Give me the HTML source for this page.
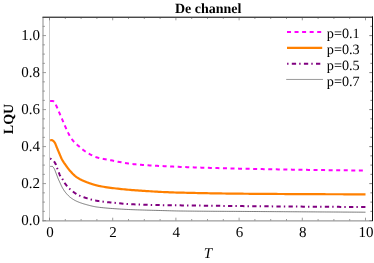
<!DOCTYPE html>
<html><head><meta charset="utf-8"><title>De channel</title>
<style>
html,body{margin:0;padding:0;background:#fff;}
body{width:374px;height:263px;overflow:hidden;}
svg{display:block;}
text{font-family:"Liberation Serif",serif;fill:#000;text-rendering:geometricPrecision;}
</style></head><body>
<svg width="374" height="263" viewBox="0 0 374 263">
<rect width="374" height="263" fill="#fff"/>
<defs><filter id="ga" x="0" y="0" width="374" height="263" filterUnits="userSpaceOnUse" color-interpolation-filters="sRGB"><feOffset dx="0" dy="0"/></filter></defs>
<g>

<line x1="49.5" y1="17.2" x2="49.5" y2="220.5" stroke="#cacaca" stroke-width="1"/>
<path d="M49.50,220.6 v-2.9 M49.50,17.2 v3.1 M65.30,220.6 v-1.6 M65.30,17.2 v1.8 M81.10,220.6 v-1.6 M81.10,17.2 v1.8 M96.90,220.6 v-1.6 M96.90,17.2 v1.8 M112.70,220.6 v-2.9 M112.70,17.2 v3.1 M128.50,220.6 v-1.6 M128.50,17.2 v1.8 M144.30,220.6 v-1.6 M144.30,17.2 v1.8 M160.10,220.6 v-1.6 M160.10,17.2 v1.8 M175.90,220.6 v-2.9 M175.90,17.2 v3.1 M191.70,220.6 v-1.6 M191.70,17.2 v1.8 M207.50,220.6 v-1.6 M207.50,17.2 v1.8 M223.30,220.6 v-1.6 M223.30,17.2 v1.8 M239.10,220.6 v-2.9 M239.10,17.2 v3.1 M254.90,220.6 v-1.6 M254.90,17.2 v1.8 M270.70,220.6 v-1.6 M270.70,17.2 v1.8 M286.50,220.6 v-1.6 M286.50,17.2 v1.8 M302.30,220.6 v-2.9 M302.30,17.2 v3.1 M318.10,220.6 v-1.6 M318.10,17.2 v1.8 M333.90,220.6 v-1.6 M333.90,17.2 v1.8 M349.70,220.6 v-1.6 M349.70,17.2 v1.8 M365.50,220.6 v-2.9 M365.50,17.2 v3.1 M42.7,220.60 h3.3 M42.7,211.35 h2.2 M42.7,202.10 h2.2 M42.7,192.85 h2.2 M42.7,183.60 h3.3 M42.7,174.35 h2.2 M42.7,165.10 h2.2 M42.7,155.85 h2.2 M42.7,146.60 h3.3 M42.7,137.35 h2.2 M42.7,128.10 h2.2 M42.7,118.85 h2.2 M42.7,109.60 h3.3 M42.7,100.35 h2.2 M42.7,91.10 h2.2 M42.7,81.85 h2.2 M42.7,72.60 h3.3 M42.7,63.35 h2.2 M42.7,54.10 h2.2 M42.7,44.85 h2.2 M42.7,35.60 h3.3 M42.7,26.35 h2.2" stroke="#585858" stroke-width="0.6" fill="none"/>
<path d="M372.0,220.60 h-2.6999999999999997 M372.0,211.35 h-1.6 M372.0,202.10 h-1.6 M372.0,192.85 h-1.6 M372.0,183.60 h-2.6999999999999997 M372.0,174.35 h-1.6 M372.0,165.10 h-1.6 M372.0,155.85 h-1.6 M372.0,146.60 h-2.6999999999999997 M372.0,137.35 h-1.6 M372.0,128.10 h-1.6 M372.0,118.85 h-1.6 M372.0,109.60 h-2.6999999999999997 M372.0,100.35 h-1.6 M372.0,91.10 h-1.6 M372.0,81.85 h-1.6 M372.0,72.60 h-2.6999999999999997 M372.0,63.35 h-1.6 M372.0,54.10 h-1.6 M372.0,44.85 h-1.6 M372.0,35.60 h-2.6999999999999997 M372.0,26.35 h-1.6" stroke="#2a2a2a" stroke-width="0.6" fill="none"/>
<rect x="42.5" y="17" width="1" height="204.4" fill="#8a8a8a"/>
<rect x="42.5" y="220.4" width="330" height="1" fill="#848484"/>
<rect x="42.5" y="16" width="330.5" height="1" fill="#b0b0b0"/>
<rect x="42.5" y="17" width="330.5" height="1" fill="#484848"/>
<rect x="372" y="16.5" width="1" height="204.6" fill="#0c0c0c"/>
<path d="M50.10,166.40 L50.35,166.40 L50.60,166.40 L50.85,166.40 L51.10,166.40 L51.35,166.40 L51.60,166.40 L51.86,166.40 L52.11,166.40 L52.36,166.42 L52.61,166.54 L52.86,166.76 L53.11,167.04 L53.36,167.36 L53.61,167.73 L53.86,168.10 L54.11,168.47 L54.36,168.93 L54.61,169.46 L54.86,170.06 L55.12,170.70 L55.37,171.38 L55.62,172.06 L55.87,172.74 L56.12,173.39 L56.37,174.02 L56.62,174.67 L56.87,175.33 L57.12,175.99 L57.37,176.65 L57.62,177.31 L57.87,177.95 L58.12,178.58 L58.37,179.18 L58.63,179.76 L58.88,180.32 L59.13,180.87 L59.38,181.42 L59.63,181.95 L59.88,182.49 L60.13,183.02 L60.38,183.56 L60.63,184.11 L60.88,184.66 L61.13,185.22 L61.38,185.77 L61.63,186.29 L61.89,186.79 L62.14,187.25 L62.39,187.69 L62.64,188.13 L62.89,188.56 L63.14,188.97 L63.39,189.38 L63.64,189.78 L63.89,190.17 L64.14,190.55 L64.39,190.92 L64.64,191.28 L64.89,191.63 L65.15,191.97 L65.40,192.29 L65.65,192.61 L65.90,192.92 L66.15,193.22 L66.40,193.52 L66.65,193.81 L66.90,194.09 L67.15,194.37 L67.40,194.64 L67.65,194.91 L67.90,195.18 L68.15,195.43 L68.41,195.68 L68.66,195.93 L68.91,196.17 L69.16,196.40 L69.41,196.62 L69.66,196.84 L69.91,197.05 L70.16,197.26 L70.41,197.46 L70.66,197.65 L70.91,197.83 L71.16,198.02 L71.41,198.20 L71.66,198.37 L71.92,198.55 L72.17,198.72 L72.42,198.88 L72.67,199.05 L72.92,199.21 L73.17,199.37 L73.42,199.52 L73.67,199.67 L73.92,199.82 L74.17,199.96 L74.42,200.11 L74.67,200.25 L74.92,200.38 L75.18,200.51 L75.43,200.65 L75.68,200.77 L75.93,200.90 L76.18,201.02 L76.43,201.14 L76.68,201.26 L76.93,201.37 L77.18,201.48 L77.43,201.59 L77.68,201.70 L77.93,201.80 L78.18,201.91 L78.44,202.01 L78.69,202.11 L78.94,202.21 L79.19,202.31 L79.44,202.41 L79.69,202.50 L79.94,202.59 L80.19,202.69 L80.44,202.78 L80.69,202.87 L80.94,202.95 L81.19,203.04 L81.44,203.13 L81.69,203.21 L81.95,203.29 L82.20,203.38 L82.45,203.46 L82.70,203.54 L82.95,203.62 L83.20,203.70 L83.45,203.77 L83.70,203.85 L83.95,203.92 L84.20,204.00 L84.45,204.07 L84.70,204.15 L84.95,204.22 L85.21,204.29 L85.46,204.36 L85.71,204.43 L85.96,204.50 L86.21,204.57 L86.46,204.64 L86.71,204.71 L86.96,204.78 L87.21,204.85 L87.46,204.92 L87.71,204.99 L87.96,205.05 L88.21,205.12 L88.47,205.19 L88.72,205.26 L88.97,205.32 L89.22,205.39 L89.47,205.45 L89.72,205.52 L89.97,205.58 L90.22,205.65 L90.47,205.71 L90.72,205.77 L90.97,205.83 L91.22,205.89 L91.47,205.95 L91.73,206.01 L91.98,206.07 L92.23,206.13 L92.48,206.19 L92.73,206.24 L92.98,206.30 L93.23,206.35 L93.48,206.40 L93.73,206.45 L93.98,206.50 L94.23,206.55 L94.48,206.60 L94.73,206.65 L94.98,206.69 L95.24,206.74 L95.49,206.78 L95.74,206.82 L95.99,206.86 L96.24,206.90 L96.49,206.94 L96.74,206.98 L96.99,207.01 L97.24,207.05 L97.49,207.08 L97.74,207.11 L97.99,207.15 L98.24,207.18 L98.50,207.21 L98.75,207.24 L99.00,207.27 L99.25,207.31 L99.50,207.34 L99.75,207.37 L100.00,207.40 L101.78,207.60 L103.56,207.79 L105.35,207.96 L107.13,208.12 L108.91,208.27 L110.69,208.41 L112.47,208.54 L114.26,208.67 L116.04,208.79 L117.82,208.91 L119.60,209.02 L121.38,209.13 L123.16,209.23 L124.95,209.33 L126.73,209.42 L128.51,209.51 L130.29,209.59 L132.07,209.66 L133.86,209.73 L135.64,209.80 L137.42,209.86 L139.20,209.92 L140.98,209.98 L142.77,210.03 L144.55,210.09 L146.33,210.14 L148.11,210.19 L149.89,210.23 L151.67,210.28 L153.46,210.33 L155.24,210.37 L157.02,210.42 L158.80,210.47 L160.58,210.52 L162.37,210.57 L164.15,210.62 L165.93,210.67 L167.71,210.72 L169.49,210.77 L171.28,210.82 L173.06,210.87 L174.84,210.91 L176.62,210.95 L178.40,210.98 L180.18,211.00 L181.97,211.02 L183.75,211.04 L185.53,211.06 L187.31,211.08 L189.09,211.10 L190.88,211.12 L192.66,211.13 L194.44,211.15 L196.22,211.16 L198.00,211.18 L199.79,211.19 L201.57,211.21 L203.35,211.22 L205.13,211.23 L206.91,211.24 L208.69,211.26 L210.48,211.27 L212.26,211.28 L214.04,211.29 L215.82,211.30 L217.60,211.31 L219.39,211.32 L221.17,211.33 L222.95,211.34 L224.73,211.35 L226.51,211.36 L228.30,211.37 L230.08,211.38 L231.86,211.39 L233.64,211.39 L235.42,211.40 L237.20,211.41 L238.99,211.42 L240.77,211.43 L242.55,211.44 L244.33,211.45 L246.11,211.46 L247.90,211.47 L249.68,211.49 L251.46,211.50 L253.24,211.51 L255.02,211.52 L256.81,211.53 L258.59,211.54 L260.37,211.55 L262.15,211.57 L263.93,211.58 L265.71,211.59 L267.50,211.60 L269.28,211.61 L271.06,211.62 L272.84,211.64 L274.62,211.65 L276.41,211.66 L278.19,211.67 L279.97,211.68 L281.75,211.69 L283.53,211.70 L285.32,211.72 L287.10,211.73 L288.88,211.74 L290.66,211.75 L292.44,211.76 L294.22,211.77 L296.01,211.78 L297.79,211.79 L299.57,211.81 L301.35,211.82 L303.13,211.83 L304.92,211.84 L306.70,211.85 L308.48,211.86 L310.26,211.87 L312.04,211.88 L313.83,211.89 L315.61,211.90 L317.39,211.92 L319.17,211.93 L320.95,211.94 L322.73,211.95 L324.52,211.96 L326.30,211.97 L328.08,211.98 L329.86,211.99 L331.64,212.00 L333.43,212.01 L335.21,212.02 L336.99,212.03 L338.77,212.04 L340.55,212.06 L342.34,212.07 L344.12,212.08 L345.90,212.09 L347.68,212.10 L349.46,212.11 L351.24,212.12 L353.03,212.13 L354.81,212.14 L356.59,212.15 L358.37,212.16 L360.15,212.17 L361.94,212.18 L363.72,212.19 L365.50,212.20" stroke="#111" stroke-width="0.55" fill="none"/>
<path d="M50.10,158.70 L50.35,158.73 L50.60,158.79 L50.85,158.87 L51.10,158.98 L51.35,159.11 L51.60,159.26 L51.86,159.43 L52.11,159.61 L52.36,159.80 L52.61,160.01 L52.86,160.23 L53.11,160.45 L53.36,160.67 L53.61,160.91 L53.86,161.18 L54.11,161.49 L54.36,161.84 L54.61,162.22 L54.86,162.64 L55.12,163.08 L55.37,163.55 L55.62,164.03 L55.87,164.59 L56.12,165.22 L56.37,165.92 L56.62,166.65 L56.87,167.38 L57.12,168.09 L57.37,168.76 L57.62,169.43 L57.87,170.11 L58.12,170.77 L58.37,171.43 L58.63,172.06 L58.88,172.71 L59.13,173.36 L59.38,174.01 L59.63,174.65 L59.88,175.24 L60.13,175.79 L60.38,176.27 L60.63,176.68 L60.88,177.04 L61.13,177.37 L61.38,177.68 L61.63,177.98 L61.89,178.29 L62.14,178.62 L62.39,178.98 L62.64,179.38 L62.89,179.81 L63.14,180.27 L63.39,180.74 L63.64,181.21 L63.89,181.67 L64.14,182.12 L64.39,182.53 L64.64,182.92 L64.89,183.29 L65.15,183.64 L65.40,183.99 L65.65,184.33 L65.90,184.66 L66.15,184.98 L66.40,185.29 L66.65,185.60 L66.90,185.90 L67.15,186.20 L67.40,186.49 L67.65,186.78 L67.90,187.06 L68.15,187.33 L68.41,187.60 L68.66,187.87 L68.91,188.13 L69.16,188.38 L69.41,188.62 L69.66,188.86 L69.91,189.09 L70.16,189.32 L70.41,189.53 L70.66,189.74 L70.91,189.95 L71.16,190.15 L71.41,190.35 L71.66,190.55 L71.92,190.75 L72.17,190.94 L72.42,191.14 L72.67,191.33 L72.92,191.53 L73.17,191.72 L73.42,191.92 L73.67,192.11 L73.92,192.31 L74.17,192.50 L74.42,192.69 L74.67,192.87 L74.92,193.05 L75.18,193.23 L75.43,193.40 L75.68,193.56 L75.93,193.72 L76.18,193.87 L76.43,194.02 L76.68,194.17 L76.93,194.31 L77.18,194.45 L77.43,194.59 L77.68,194.72 L77.93,194.85 L78.18,194.98 L78.44,195.11 L78.69,195.23 L78.94,195.35 L79.19,195.47 L79.44,195.58 L79.69,195.70 L79.94,195.80 L80.19,195.91 L80.44,196.02 L80.69,196.12 L80.94,196.22 L81.19,196.32 L81.44,196.41 L81.69,196.51 L81.95,196.60 L82.20,196.69 L82.45,196.78 L82.70,196.86 L82.95,196.95 L83.20,197.03 L83.45,197.12 L83.70,197.20 L83.95,197.28 L84.20,197.36 L84.45,197.44 L84.70,197.53 L84.95,197.61 L85.21,197.69 L85.46,197.77 L85.71,197.85 L85.96,197.93 L86.21,198.01 L86.46,198.09 L86.71,198.17 L86.96,198.25 L87.21,198.33 L87.46,198.41 L87.71,198.49 L87.96,198.57 L88.21,198.64 L88.47,198.72 L88.72,198.80 L88.97,198.87 L89.22,198.95 L89.47,199.02 L89.72,199.10 L89.97,199.17 L90.22,199.24 L90.47,199.31 L90.72,199.38 L90.97,199.45 L91.22,199.52 L91.47,199.59 L91.73,199.66 L91.98,199.72 L92.23,199.79 L92.48,199.85 L92.73,199.92 L92.98,199.98 L93.23,200.04 L93.48,200.10 L93.73,200.16 L93.98,200.22 L94.23,200.27 L94.48,200.33 L94.73,200.38 L94.98,200.44 L95.24,200.49 L95.49,200.54 L95.74,200.59 L95.99,200.64 L96.24,200.68 L96.49,200.73 L96.74,200.77 L96.99,200.82 L97.24,200.86 L97.49,200.90 L97.74,200.94 L97.99,200.98 L98.24,201.02 L98.50,201.06 L98.75,201.10 L99.00,201.13 L99.25,201.17 L99.50,201.21 L99.75,201.24 L100.00,201.28 L101.78,201.52 L103.56,201.75 L105.35,201.95 L107.13,202.15 L108.91,202.33 L110.69,202.50 L112.47,202.67 L114.26,202.84 L116.04,203.01 L117.82,203.18 L119.60,203.34 L121.38,203.50 L123.16,203.65 L124.95,203.80 L126.73,203.93 L128.51,204.05 L130.29,204.16 L132.07,204.26 L133.86,204.34 L135.64,204.41 L137.42,204.48 L139.20,204.55 L140.98,204.61 L142.77,204.67 L144.55,204.73 L146.33,204.79 L148.11,204.84 L149.89,204.88 L151.67,204.93 L153.46,204.97 L155.24,205.01 L157.02,205.05 L158.80,205.08 L160.58,205.11 L162.37,205.14 L164.15,205.16 L165.93,205.19 L167.71,205.21 L169.49,205.23 L171.28,205.25 L173.06,205.27 L174.84,205.29 L176.62,205.31 L178.40,205.33 L180.18,205.36 L181.97,205.38 L183.75,205.40 L185.53,205.42 L187.31,205.45 L189.09,205.47 L190.88,205.49 L192.66,205.51 L194.44,205.54 L196.22,205.56 L198.00,205.58 L199.79,205.61 L201.57,205.63 L203.35,205.65 L205.13,205.67 L206.91,205.70 L208.69,205.72 L210.48,205.74 L212.26,205.76 L214.04,205.78 L215.82,205.81 L217.60,205.83 L219.39,205.85 L221.17,205.87 L222.95,205.89 L224.73,205.91 L226.51,205.93 L228.30,205.96 L230.08,205.98 L231.86,206.00 L233.64,206.02 L235.42,206.03 L237.20,206.05 L238.99,206.07 L240.77,206.09 L242.55,206.11 L244.33,206.13 L246.11,206.14 L247.90,206.16 L249.68,206.18 L251.46,206.20 L253.24,206.21 L255.02,206.23 L256.81,206.24 L258.59,206.26 L260.37,206.27 L262.15,206.29 L263.93,206.31 L265.71,206.32 L267.50,206.34 L269.28,206.35 L271.06,206.37 L272.84,206.38 L274.62,206.40 L276.41,206.41 L278.19,206.43 L279.97,206.44 L281.75,206.46 L283.53,206.47 L285.32,206.49 L287.10,206.50 L288.88,206.52 L290.66,206.53 L292.44,206.54 L294.22,206.56 L296.01,206.57 L297.79,206.59 L299.57,206.60 L301.35,206.61 L303.13,206.63 L304.92,206.64 L306.70,206.65 L308.48,206.67 L310.26,206.68 L312.04,206.69 L313.83,206.70 L315.61,206.72 L317.39,206.73 L319.17,206.74 L320.95,206.75 L322.73,206.77 L324.52,206.78 L326.30,206.79 L328.08,206.80 L329.86,206.81 L331.64,206.82 L333.43,206.83 L335.21,206.84 L336.99,206.85 L338.77,206.87 L340.55,206.88 L342.34,206.89 L344.12,206.90 L345.90,206.91 L347.68,206.91 L349.46,206.92 L351.24,206.93 L353.03,206.94 L354.81,206.95 L356.59,206.96 L358.37,206.97 L360.15,206.98 L361.94,206.98 L363.72,206.99 L365.50,207.00" stroke="#800080" stroke-width="2" fill="none" stroke-dasharray="1.4 3.3 4.3 3.1"/>
<path d="M50.10,140.50 L50.35,140.39 L50.60,140.31 L50.85,140.26 L51.10,140.23 L51.35,140.21 L51.60,140.20 L51.86,140.20 L52.11,140.22 L52.36,140.29 L52.61,140.41 L52.86,140.57 L53.11,140.76 L53.36,140.99 L53.61,141.24 L53.86,141.52 L54.11,141.81 L54.36,142.11 L54.61,142.42 L54.86,142.79 L55.12,143.26 L55.37,143.82 L55.62,144.43 L55.87,145.07 L56.12,145.73 L56.37,146.39 L56.62,147.01 L56.87,147.60 L57.12,148.19 L57.37,148.78 L57.62,149.38 L57.87,149.98 L58.12,150.58 L58.37,151.18 L58.63,151.78 L58.88,152.37 L59.13,152.96 L59.38,153.55 L59.63,154.14 L59.88,154.73 L60.13,155.34 L60.38,155.94 L60.63,156.54 L60.88,157.13 L61.13,157.70 L61.38,158.26 L61.63,158.79 L61.89,159.28 L62.14,159.75 L62.39,160.20 L62.64,160.63 L62.89,161.04 L63.14,161.44 L63.39,161.83 L63.64,162.21 L63.89,162.59 L64.14,162.95 L64.39,163.31 L64.64,163.67 L64.89,164.03 L65.15,164.38 L65.40,164.74 L65.65,165.09 L65.90,165.45 L66.15,165.80 L66.40,166.15 L66.65,166.50 L66.90,166.85 L67.15,167.20 L67.40,167.54 L67.65,167.88 L67.90,168.21 L68.15,168.54 L68.41,168.87 L68.66,169.19 L68.91,169.51 L69.16,169.82 L69.41,170.13 L69.66,170.43 L69.91,170.72 L70.16,171.01 L70.41,171.29 L70.66,171.57 L70.91,171.84 L71.16,172.11 L71.41,172.37 L71.66,172.64 L71.92,172.90 L72.17,173.16 L72.42,173.42 L72.67,173.68 L72.92,173.93 L73.17,174.17 L73.42,174.42 L73.67,174.66 L73.92,174.90 L74.17,175.13 L74.42,175.36 L74.67,175.58 L74.92,175.80 L75.18,176.01 L75.43,176.22 L75.68,176.43 L75.93,176.62 L76.18,176.81 L76.43,177.00 L76.68,177.18 L76.93,177.35 L77.18,177.52 L77.43,177.68 L77.68,177.85 L77.93,178.00 L78.18,178.16 L78.44,178.31 L78.69,178.46 L78.94,178.61 L79.19,178.75 L79.44,178.90 L79.69,179.04 L79.94,179.17 L80.19,179.31 L80.44,179.44 L80.69,179.57 L80.94,179.70 L81.19,179.82 L81.44,179.94 L81.69,180.07 L81.95,180.19 L82.20,180.30 L82.45,180.42 L82.70,180.53 L82.95,180.64 L83.20,180.75 L83.45,180.86 L83.70,180.97 L83.95,181.07 L84.20,181.18 L84.45,181.28 L84.70,181.38 L84.95,181.48 L85.21,181.58 L85.46,181.68 L85.71,181.78 L85.96,181.88 L86.21,181.98 L86.46,182.08 L86.71,182.17 L86.96,182.27 L87.21,182.37 L87.46,182.46 L87.71,182.55 L87.96,182.65 L88.21,182.74 L88.47,182.83 L88.72,182.93 L88.97,183.02 L89.22,183.11 L89.47,183.20 L89.72,183.28 L89.97,183.37 L90.22,183.46 L90.47,183.55 L90.72,183.63 L90.97,183.72 L91.22,183.80 L91.47,183.88 L91.73,183.97 L91.98,184.05 L92.23,184.13 L92.48,184.21 L92.73,184.29 L92.98,184.36 L93.23,184.44 L93.48,184.52 L93.73,184.59 L93.98,184.67 L94.23,184.74 L94.48,184.81 L94.73,184.88 L94.98,184.95 L95.24,185.02 L95.49,185.09 L95.74,185.16 L95.99,185.23 L96.24,185.29 L96.49,185.36 L96.74,185.42 L96.99,185.48 L97.24,185.54 L97.49,185.60 L97.74,185.66 L97.99,185.72 L98.24,185.77 L98.50,185.83 L98.75,185.88 L99.00,185.94 L99.25,185.99 L99.50,186.04 L99.75,186.09 L100.00,186.14 L101.78,186.48 L103.56,186.79 L105.35,187.08 L107.13,187.35 L108.91,187.60 L110.69,187.83 L112.47,188.06 L114.26,188.27 L116.04,188.48 L117.82,188.68 L119.60,188.88 L121.38,189.07 L123.16,189.25 L124.95,189.42 L126.73,189.59 L128.51,189.74 L130.29,189.89 L132.07,190.03 L133.86,190.16 L135.64,190.29 L137.42,190.42 L139.20,190.55 L140.98,190.67 L142.77,190.80 L144.55,190.92 L146.33,191.04 L148.11,191.16 L149.89,191.27 L151.67,191.38 L153.46,191.49 L155.24,191.60 L157.02,191.70 L158.80,191.80 L160.58,191.89 L162.37,191.98 L164.15,192.07 L165.93,192.15 L167.71,192.22 L169.49,192.29 L171.28,192.36 L173.06,192.42 L174.84,192.48 L176.62,192.53 L178.40,192.57 L180.18,192.62 L181.97,192.67 L183.75,192.71 L185.53,192.76 L187.31,192.80 L189.09,192.84 L190.88,192.88 L192.66,192.93 L194.44,192.97 L196.22,193.00 L198.00,193.04 L199.79,193.08 L201.57,193.12 L203.35,193.15 L205.13,193.19 L206.91,193.22 L208.69,193.25 L210.48,193.28 L212.26,193.32 L214.04,193.35 L215.82,193.38 L217.60,193.40 L219.39,193.43 L221.17,193.46 L222.95,193.49 L224.73,193.51 L226.51,193.54 L228.30,193.56 L230.08,193.58 L231.86,193.60 L233.64,193.63 L235.42,193.65 L237.20,193.67 L238.99,193.68 L240.77,193.70 L242.55,193.72 L244.33,193.74 L246.11,193.75 L247.90,193.77 L249.68,193.78 L251.46,193.80 L253.24,193.81 L255.02,193.82 L256.81,193.83 L258.59,193.85 L260.37,193.86 L262.15,193.87 L263.93,193.88 L265.71,193.90 L267.50,193.91 L269.28,193.92 L271.06,193.93 L272.84,193.95 L274.62,193.96 L276.41,193.97 L278.19,193.98 L279.97,193.99 L281.75,194.00 L283.53,194.01 L285.32,194.03 L287.10,194.04 L288.88,194.05 L290.66,194.06 L292.44,194.07 L294.22,194.08 L296.01,194.09 L297.79,194.10 L299.57,194.11 L301.35,194.12 L303.13,194.13 L304.92,194.13 L306.70,194.14 L308.48,194.15 L310.26,194.16 L312.04,194.17 L313.83,194.18 L315.61,194.18 L317.39,194.19 L319.17,194.20 L320.95,194.21 L322.73,194.21 L324.52,194.22 L326.30,194.23 L328.08,194.23 L329.86,194.24 L331.64,194.24 L333.43,194.25 L335.21,194.26 L336.99,194.26 L338.77,194.26 L340.55,194.27 L342.34,194.27 L344.12,194.28 L345.90,194.28 L347.68,194.28 L349.46,194.29 L351.24,194.29 L353.03,194.29 L354.81,194.29 L356.59,194.30 L358.37,194.30 L360.15,194.30 L361.94,194.30 L363.72,194.30 L365.50,194.30" stroke="#ff8000" stroke-width="2.2" fill="none" stroke-linejoin="round"/>
<path d="M50.10,100.90 L50.35,100.90 L50.60,100.91 L50.85,100.91 L51.10,100.92 L51.35,100.94 L51.60,100.95 L51.86,100.97 L52.11,101.00 L52.36,101.02 L52.61,101.05 L52.86,101.08 L53.11,101.12 L53.36,101.23 L53.61,101.40 L53.86,101.62 L54.11,101.87 L54.36,102.15 L54.61,102.44 L54.86,102.80 L55.12,103.23 L55.37,103.72 L55.62,104.25 L55.87,104.81 L56.12,105.37 L56.37,105.92 L56.62,106.45 L56.87,106.99 L57.12,107.55 L57.37,108.12 L57.62,108.69 L57.87,109.28 L58.12,109.87 L58.37,110.47 L58.63,111.06 L58.88,111.66 L59.13,112.26 L59.38,112.85 L59.63,113.44 L59.88,114.02 L60.13,114.60 L60.38,115.17 L60.63,115.75 L60.88,116.34 L61.13,116.92 L61.38,117.51 L61.63,118.10 L61.89,118.69 L62.14,119.28 L62.39,119.87 L62.64,120.47 L62.89,121.06 L63.14,121.65 L63.39,122.24 L63.64,122.83 L63.89,123.42 L64.14,124.01 L64.39,124.59 L64.64,125.17 L64.89,125.75 L65.15,126.33 L65.40,126.90 L65.65,127.47 L65.90,128.03 L66.15,128.59 L66.40,129.14 L66.65,129.69 L66.90,130.23 L67.15,130.77 L67.40,131.30 L67.65,131.82 L67.90,132.33 L68.15,132.84 L68.41,133.34 L68.66,133.83 L68.91,134.31 L69.16,134.79 L69.41,135.26 L69.66,135.72 L69.91,136.16 L70.16,136.60 L70.41,137.03 L70.66,137.43 L70.91,137.82 L71.16,138.19 L71.41,138.55 L71.66,138.90 L71.92,139.24 L72.17,139.58 L72.42,139.91 L72.67,140.23 L72.92,140.55 L73.17,140.85 L73.42,141.15 L73.67,141.45 L73.92,141.74 L74.17,142.02 L74.42,142.29 L74.67,142.56 L74.92,142.82 L75.18,143.08 L75.43,143.32 L75.68,143.56 L75.93,143.79 L76.18,144.01 L76.43,144.23 L76.68,144.44 L76.93,144.64 L77.18,144.85 L77.43,145.05 L77.68,145.25 L77.93,145.46 L78.18,145.67 L78.44,145.88 L78.69,146.10 L78.94,146.31 L79.19,146.53 L79.44,146.75 L79.69,146.97 L79.94,147.19 L80.19,147.41 L80.44,147.62 L80.69,147.84 L80.94,148.06 L81.19,148.28 L81.44,148.49 L81.69,148.70 L81.95,148.92 L82.20,149.12 L82.45,149.33 L82.70,149.53 L82.95,149.73 L83.20,149.93 L83.45,150.12 L83.70,150.30 L83.95,150.49 L84.20,150.66 L84.45,150.84 L84.70,151.00 L84.95,151.17 L85.21,151.33 L85.46,151.49 L85.71,151.65 L85.96,151.82 L86.21,151.98 L86.46,152.14 L86.71,152.30 L86.96,152.46 L87.21,152.61 L87.46,152.77 L87.71,152.93 L87.96,153.08 L88.21,153.23 L88.47,153.39 L88.72,153.54 L88.97,153.69 L89.22,153.84 L89.47,153.98 L89.72,154.13 L89.97,154.27 L90.22,154.42 L90.47,154.56 L90.72,154.70 L90.97,154.83 L91.22,154.97 L91.47,155.10 L91.73,155.23 L91.98,155.36 L92.23,155.49 L92.48,155.61 L92.73,155.74 L92.98,155.86 L93.23,155.98 L93.48,156.09 L93.73,156.21 L93.98,156.32 L94.23,156.42 L94.48,156.53 L94.73,156.63 L94.98,156.73 L95.24,156.83 L95.49,156.92 L95.74,157.02 L95.99,157.10 L96.24,157.19 L96.49,157.27 L96.74,157.35 L96.99,157.43 L97.24,157.50 L97.49,157.57 L97.74,157.65 L97.99,157.72 L98.24,157.78 L98.50,157.85 L98.75,157.92 L99.00,157.98 L99.25,158.05 L99.50,158.11 L99.75,158.17 L100.00,158.23 L101.78,158.63 L103.56,158.99 L105.35,159.32 L107.13,159.64 L108.91,159.95 L110.69,160.27 L112.47,160.60 L114.26,160.95 L116.04,161.30 L117.82,161.66 L119.60,162.01 L121.38,162.35 L123.16,162.68 L124.95,163.00 L126.73,163.29 L128.51,163.56 L130.29,163.80 L132.07,164.01 L133.86,164.18 L135.64,164.34 L137.42,164.50 L139.20,164.65 L140.98,164.79 L142.77,164.93 L144.55,165.06 L146.33,165.18 L148.11,165.30 L149.89,165.42 L151.67,165.53 L153.46,165.64 L155.24,165.74 L157.02,165.84 L158.80,165.93 L160.58,166.03 L162.37,166.11 L164.15,166.20 L165.93,166.28 L167.71,166.36 L169.49,166.44 L171.28,166.52 L173.06,166.59 L174.84,166.67 L176.62,166.74 L178.40,166.81 L180.18,166.88 L181.97,166.95 L183.75,167.01 L185.53,167.08 L187.31,167.15 L189.09,167.21 L190.88,167.27 L192.66,167.34 L194.44,167.40 L196.22,167.46 L198.00,167.52 L199.79,167.58 L201.57,167.63 L203.35,167.69 L205.13,167.74 L206.91,167.80 L208.69,167.85 L210.48,167.90 L212.26,167.96 L214.04,168.01 L215.82,168.06 L217.60,168.11 L219.39,168.15 L221.17,168.20 L222.95,168.25 L224.73,168.29 L226.51,168.34 L228.30,168.38 L230.08,168.43 L231.86,168.47 L233.64,168.51 L235.42,168.55 L237.20,168.59 L238.99,168.63 L240.77,168.67 L242.55,168.71 L244.33,168.75 L246.11,168.78 L247.90,168.82 L249.68,168.85 L251.46,168.89 L253.24,168.92 L255.02,168.96 L256.81,168.99 L258.59,169.03 L260.37,169.06 L262.15,169.09 L263.93,169.13 L265.71,169.16 L267.50,169.20 L269.28,169.23 L271.06,169.26 L272.84,169.29 L274.62,169.33 L276.41,169.36 L278.19,169.39 L279.97,169.42 L281.75,169.46 L283.53,169.49 L285.32,169.52 L287.10,169.55 L288.88,169.58 L290.66,169.61 L292.44,169.64 L294.22,169.67 L296.01,169.70 L297.79,169.73 L299.57,169.76 L301.35,169.79 L303.13,169.81 L304.92,169.84 L306.70,169.87 L308.48,169.90 L310.26,169.92 L312.04,169.95 L313.83,169.97 L315.61,170.00 L317.39,170.02 L319.17,170.05 L320.95,170.07 L322.73,170.10 L324.52,170.12 L326.30,170.14 L328.08,170.16 L329.86,170.19 L331.64,170.21 L333.43,170.23 L335.21,170.25 L336.99,170.27 L338.77,170.29 L340.55,170.30 L342.34,170.32 L344.12,170.34 L345.90,170.36 L347.68,170.37 L349.46,170.39 L351.24,170.40 L353.03,170.42 L354.81,170.43 L356.59,170.44 L358.37,170.46 L360.15,170.47 L361.94,170.48 L363.72,170.49 L365.50,170.50" stroke="#ff00ff" stroke-width="2" fill="none" stroke-dasharray="4 3.55"/>
<path d="M287,32 H321.2" stroke="#ff00ff" stroke-width="2" stroke-dasharray="4 3.55"/>
<path d="M287,47.9 H322.2" stroke="#ff8000" stroke-width="2.2"/>
<path d="M287.1,63.7 H321" stroke="#800080" stroke-width="2" stroke-dasharray="1.4 3.3 4.3 3.1"/>
<path d="M286.2,79.45 H323" stroke="#555" stroke-width="0.6"/>
<g filter="url(#ga)">
<text x="326.8" y="38.20" font-size="14.2">p=0.1</text>
<text x="326.8" y="54.05" font-size="14.2">p=0.3</text>
<text x="326.8" y="69.90" font-size="14.2">p=0.5</text>
<text x="326.8" y="85.75" font-size="14.2">p=0.7</text>
<text x="40.0" y="225.40" text-anchor="end" font-size="15">0.0</text>
<text x="40.0" y="188.40" text-anchor="end" font-size="15">0.2</text>
<text x="40.0" y="151.40" text-anchor="end" font-size="15">0.4</text>
<text x="40.0" y="114.40" text-anchor="end" font-size="15">0.6</text>
<text x="40.0" y="77.40" text-anchor="end" font-size="15">0.8</text>
<text x="40.0" y="40.40" text-anchor="end" font-size="15">1.0</text>
<text x="49.90" y="236.6" text-anchor="middle" font-size="15">0</text>
<text x="113.10" y="236.6" text-anchor="middle" font-size="15">2</text>
<text x="176.30" y="236.6" text-anchor="middle" font-size="15">4</text>
<text x="239.50" y="236.6" text-anchor="middle" font-size="15">6</text>
<text x="302.70" y="236.6" text-anchor="middle" font-size="15">8</text>
<text x="365.90" y="236.6" text-anchor="middle" font-size="15">10</text>
<text x="208.2" y="12.5" text-anchor="middle" font-weight="bold" font-size="14">De channel</text>
<text x="207.9" y="258" text-anchor="middle" font-style="italic" font-size="15">T</text>
<text transform="translate(12.6,119) rotate(-90)" text-anchor="middle" font-weight="bold" font-size="14">LQU</text>
</g></g></svg></body></html>
